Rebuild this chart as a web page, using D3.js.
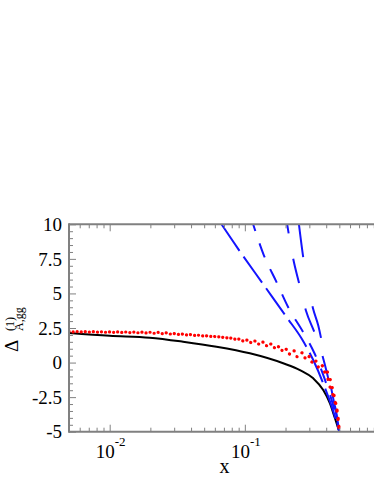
<!DOCTYPE html>
<html>
<head>
<meta charset="utf-8">
<script src="https://cdn.jsdelivr.net/npm/d3@7/dist/d3.min.js"></script>
<style>
	html, body { margin: 0; padding: 0; background: #fff; }
	svg { display: block; }
</style>
</head>
<body>
<div id="chart"></div>
<script>

// black solid curve
let blackX = [0.005, 0.01, 0.0198, 0.0349, 0.0617, 0.1089, 0.1921, 0.2555, 0.3206, 0.3802, 0.4262, 0.4642, 0.5];
let blackY = [2.14, 1.94, 1.80, 1.51, 1.15, 0.67, -0.05, -0.54, -1.14, -1.99, -2.95, -4.03, -5];

// red dotted curves (upper / lower)
let redAX = [0.005, 0.01, 0.0209, 0.035, 0.062, 0.103, 0.145, 0.204, 0.270, 0.339, 0.380, 0.426, 0.450, 0.477, 0.5];
let redAY = [2.25, 2.22, 2.19, 2.05, 1.87, 1.63, 1.42, 0.95, 0.67, 0.07, -0.30, -1.14, -2.10, -3.30, -5];
let redBX = [0.005, 0.01, 0.02, 0.04, 0.0774, 0.103, 0.137, 0.172, 0.242, 0.286, 0.321, 0.359, 0.403, 0.426, 0.464, 0.49, 0.5];
let redBY = [2.22, 2.19, 2.13, 1.98, 1.76, 1.51, 1.27, 1.03, 0.43, 0.31, -0.05, -0.41, -0.90, -1.74, -2.83, -4.03, -5];

// blue dashed curves
let blue1X = [0.0672, 0.0887, 0.1337, 0.2046, 0.263, 0.32, 0.38, 0.44, 0.5];
let blue1Y = [10, 8.26, 5.8, 3.26, 1.74, 0.2, -1.5, -3.2, -5];
let blue2X = [0.1152, 0.1367, 0.1716, 0.2093, 0.2703, 0.33, 0.39, 0.45, 0.5];
let blue2Y = [10, 7.88, 5.82, 4.0, 2.2, 0.6, -1.2, -3.1, -5];
let blue3X = [0.2057, 0.2279, 0.2525, 0.283, 0.33, 0.38, 0.43, 0.47, 0.5];
let blue3Y = [10, 7.51, 5.7, 3.77, 2.1, 0.3, -1.8, -3.4, -5];
let blue4X = [0.2513, 0.2702, 0.3199, 0.3493, 0.3912, 0.43, 0.47, 0.5];
let blue4Y = [10, 7.63, 3.89, 2.68, 0.36, -1.6, -3.5, -5];

// axes
let yTicks = [-5, -2.5, 0, 2.5, 5, 7.5, 10];
let yTickLabels = ['-5', '-2.5', '0', '2.5', '5', '7.5', '10'];
let xMajor = [0.01, 0.1, 1];
let xLabelled = [0.01, 0.1];
let xLabelExp = ['-2', '-1'];

let width = 374,
		height = 484,
		plot = {left: 69, right: 380, top: 224.3, bottom: 431.7},
		axisGrey = '#808080',
		blue = '#1414ff',
		red = '#ff0000',
		serif = '"Liberation Serif", "DejaVu Serif", serif';

let svg = d3.select('#chart').append('svg')
		.attr('width', width)
		.attr('height', height);

let x = d3.scaleLog().domain([0.005, 1]).range([plot.left, plot.right]);
let y = d3.scaleLinear().domain([-5, 10]).range([plot.bottom, plot.top]);

// minor ticks
let xMinor = [];
[0.001, 0.01, 0.1].forEach(dec => {
	for (let k = 2; k <= 9; k++) {
		let v = dec * k;
		if (v >= 0.005 && v <= 1) xMinor.push(v);
	}
});
let yMinor = d3.range(-5, 10.01, 0.5).filter(v => yTicks.indexOf(v) < 0);

svg.append('clipPath').attr('id', 'clip')
		.append('rect')
		.attr('x', plot.left)
		.attr('y', plot.top)
		.attr('width', plot.right - plot.left)
		.attr('height', plot.bottom - plot.top);

let curves = svg.append('g').attr('clip-path', 'url(#clip)');

let line = d3.line()
		.x(d => x(d[0]))
		.y(d => y(d[1]))
		.curve(d3.curveMonotoneX);

let series = [
	{xs: blackX, ys: blackY, color: '#000', w: 2, dash: null},
	{xs: blue1X, ys: blue1Y, color: blue, w: 2, dash: '32,7'},
	{xs: blue2X, ys: blue2Y, color: blue, w: 2, dash: '15,13', off: 8},
	{xs: blue3X, ys: blue3Y, color: blue, w: 2, dash: '25,26', off: 16},
	{xs: blue4X, ys: blue4Y, color: blue, w: 2, dash: '33,50'},
	{xs: redAX, ys: redAY, color: red, w: 3.2, dash: '0.1,8', cap: 'round'},
	{xs: redBX, ys: redBY, color: red, w: 3.2, dash: '0.1,8', cap: 'round', off: 4}
];

curves.selectAll('path')
		.data(series)
		.enter()
		.append('path')
		.attr('d', s => line(s.xs.map((v, i) => [v, s.ys[i]])))
		.attr('fill', 'none')
		.attr('stroke', s => s.color)
		.attr('stroke-width', s => s.w)
		.attr('stroke-dasharray', s => s.dash)
		.attr('stroke-dashoffset', s => s.off || 0)
		.attr('stroke-linecap', s => s.cap || 'butt');

// tick marks (inward, mirrored on top)
function ticks(axisFn, scale, values, size, transform) {
	let g = svg.append('g')
			.attr('transform', transform)
			.call(axisFn(scale).tickValues(values).tickSize(size).tickFormat(''));
	g.select('.domain').remove();
	g.selectAll('line').attr('stroke', axisGrey).attr('stroke-width', 1);
}

ticks(d3.axisBottom, x, xMinor, -4, `translate(0,${plot.bottom})`);
ticks(d3.axisBottom, x, xMajor, -7, `translate(0,${plot.bottom})`);
ticks(d3.axisTop, x, xMinor, -4, `translate(0,${plot.top})`);
ticks(d3.axisTop, x, xMajor, -7, `translate(0,${plot.top})`);
ticks(d3.axisLeft, y, yMinor, -4, `translate(${plot.left},0)`);
ticks(d3.axisLeft, y, yTicks, -7, `translate(${plot.left},0)`);

// axis lines
let frame = svg.append('g')
		.attr('stroke', axisGrey)
		.attr('stroke-width', 2);
frame.append('line')
		.attr('x1', plot.left).attr('x2', plot.right)
		.attr('y1', plot.bottom).attr('y2', plot.bottom);
frame.append('line')
		.attr('x1', plot.left).attr('x2', plot.right)
		.attr('y1', plot.top).attr('y2', plot.top);
frame.append('line')
		.attr('x1', plot.left).attr('x2', plot.left)
		.attr('y1', plot.top - 1).attr('y2', plot.bottom + 1);

// y tick labels
svg.append('g').selectAll('text')
		.data(yTicks)
		.enter()
		.append('text')
		.attr('x', plot.left - 7)
		.attr('y', d => y(d))
		.attr('dy', '0.35em')
		.attr('text-anchor', 'end')
		.style('font-family', serif)
		.style('font-size', '19px')
		.text((d, i) => yTickLabels[i]);

// x tick labels 10^n
let xl = svg.append('g').selectAll('text')
		.data(xLabelled)
		.enter()
		.append('text')
		.attr('x', d => x(d) + 1)
		.attr('y', 458)
		.attr('text-anchor', 'middle')
		.style('font-family', serif)
		.style('font-size', '19px');
xl.append('tspan').text('10');
xl.append('tspan')
		.attr('dy', -12)
		.style('font-size', '13px')
		.text((d, i) => xLabelExp[i]);

// axis titles
svg.append('text')
		.attr('x', (plot.left + plot.right) / 2)
		.attr('y', 473)
		.attr('text-anchor', 'middle')
		.style('font-family', serif)
		.style('font-size', '20px')
		.text('x');

let yt = svg.append('g')
		.attr('transform', 'translate(18,352) rotate(-90)')
		.style('font-family', serif);
yt.append('text')
		.attr('x', 0).attr('y', 0)
		.style('font-size', '19px')
		.text('\u0394');
yt.append('text')
		.attr('x', 21).attr('y', -4)
		.style('font-size', '12px')
		.text('(1)');
yt.append('text')
		.attr('x', 21).attr('y', 5)
		.style('font-size', '12px')
		.text('A,gg');

</script>
</body>
</html>
